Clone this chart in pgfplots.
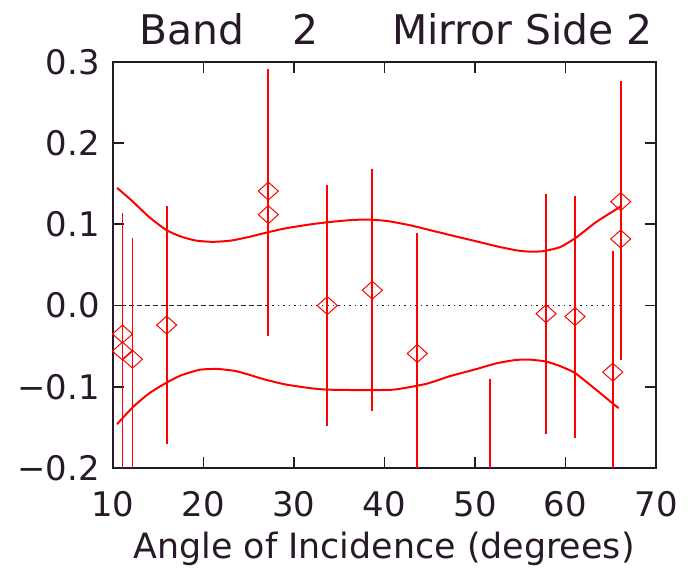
\documentclass[border=0pt]{standalone}
\usepackage{pgfplots}
\pgfplotsset{compat=1.18}
\usepackage{fontspec}
\setmainfont{DejaVu Sans}

\definecolor{ink}{RGB}{40,25,40}
\definecolor{idlred}{RGB}{255,0,0}

% open diamond, a little wider than tall
\pgfdeclareplotmark{wdiamond}{%
  \pgfpathmoveto{\pgfqpoint{-\pgfplotmarksize}{0pt}}%
  \pgfpathlineto{\pgfqpoint{0pt}{.9\pgfplotmarksize}}%
  \pgfpathlineto{\pgfqpoint{\pgfplotmarksize}{0pt}}%
  \pgfpathlineto{\pgfqpoint{0pt}{-.9\pgfplotmarksize}}%
  \pgfpathclose\pgfusepathqstroke}

% measured residuals with 1-sigma uncertainties
\pgfplotstableread{
x      y        e
11.05  -0.056   0.150
11.05  -0.035   0.149
12.15  -0.066   0.149
15.93  -0.024   0.147
27.16   0.141   0.150
27.16   0.112   0.150
33.68   0.000   0.148
38.65   0.019   0.149
43.62  -0.059   0.148
51.66  -0.240   0.149
57.85  -0.010   0.148
61.05  -0.0135  0.149
65.22  -0.082   0.149
66.10   0.128   0.149
66.10   0.082   0.149
}\resid

\begin{document}
\begin{tikzpicture}[x=1bp,y=1bp]
\useasboundingbox (0,0) rectangle (690,570);
\begin{axis}[
  at={(113bp,102bp)}, anchor=south west,
  scale only axis, width=543bp, height=406bp,
  xmin=10, xmax=70, ymin=-0.2, ymax=0.3,
  xtick={10,20,30,40,50,60,70},
  xticklabels={10,20,30,40,50,60,70},
  ytick={-0.2,-0.1,0,0.1,0.2,0.3},
  yticklabels={−0.2,−0.1,0.0,0.1,0.2,0.3},
  tick align=inside, major tick length=11bp,
  axis line style={ink, line width=1.8bp},
  every tick/.style={ink, line width=1.8bp},
  tick label style={font=\fontsize{34}{34}\selectfont, text=ink},
  yticklabel style={inner sep=0pt, xshift=-13bp},
  xticklabel style={inner sep=0pt, yshift=-23bp},
]
% zero reference line
\addplot[ink, line width=1.4bp, dash pattern=on 5bp off 3bp] coordinates {(10,0) (27,0)};
\addplot[ink, line width=1.4bp, dash pattern=on 1.5bp off 4bp] coordinates {(27,0) (66,0)};

% upper envelope
\addplot[idlred, line width=2bp, smooth, tension=0.35] coordinates {
(10.45,0.145) (12,0.130) (14,0.109) (15.9,0.093) (17.5,0.085) (19.2,0.080)
(21,0.0785) (23,0.080) (25,0.0845) (27,0.090) (29,0.095) (31.8,0.100)
(34,0.103) (36.5,0.1055) (38.5,0.1058) (40.4,0.104) (42.8,0.099) (45,0.093)
(47.2,0.087) (50.2,0.079) (52.4,0.073) (54.6,0.068) (56,0.0665) (57.5,0.067)
(59.4,0.072) (61.2,0.084) (63.4,0.103) (65.8,0.120) (66.1,0.1225)};

% lower envelope
\addplot[idlred, line width=2bp, smooth, tension=0.35] coordinates {
(10.45,-0.146) (12.2,-0.125) (14,-0.108) (15.9,-0.095) (17.5,-0.086) (19.6,-0.079)
(21.5,-0.078) (23.5,-0.0805) (25,-0.085) (26.6,-0.0905) (29,-0.097) (31.8,-0.1017)
(33.7,-0.1035) (37,-0.104) (41,-0.1035) (44.6,-0.0964) (47.2,-0.087)
(50.2,-0.078) (52.4,-0.071) (54.5,-0.067) (56,-0.0665) (57.9,-0.069)
(59.5,-0.075) (61.05,-0.083) (63.4,-0.1038) (65.6,-0.124) (65.9,-0.126)};

% data points with error bars
\addplot[idlred, only marks, mark=wdiamond, mark size=10bp,
  mark options={line width=1bp, solid},
  error bars/.cd, y dir=both, y explicit, error mark=none,
  error bar style={idlred, line width=1.8bp}]
  table[x=x, y=y, y error=e] {\resid};
\end{axis}

\node[anchor=base west, inner sep=0pt, text=ink, font=\fontsize{41}{41}\selectfont] at (139,525) {Band};
\node[anchor=base, inner sep=0pt, text=ink, font=\fontsize{41}{41}\selectfont] at (305.5,525) {2};
\node[anchor=base east, inner sep=0pt, text=ink, font=\fontsize{41}{41}\selectfont] at (653,525) {Mirror Side 2};
\node[anchor=base, inner sep=0pt, text=ink, font=\fontsize{35}{35}\selectfont] at (384,11) {Angle of Incidence (degrees)};
\end{tikzpicture}
\end{document}
